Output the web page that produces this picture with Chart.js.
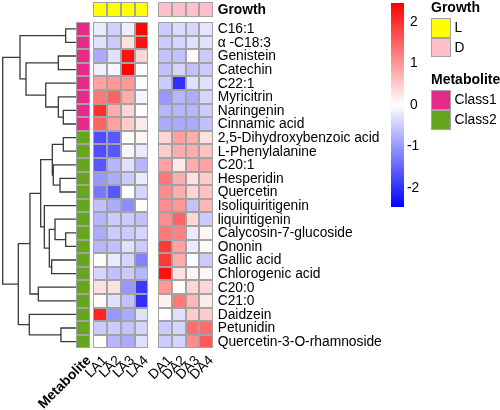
<!DOCTYPE html>
<html>
<head>
<meta charset="utf-8">
<script src="https://cdn.jsdelivr.net/npm/chart.js@4.4.0/dist/chart.umd.min.js"></script>
<style>
  html, body { margin: 0; padding: 0; background: #fff; }
  #wrap { width: 500px; height: 410px; position: relative; }
</style>
</head>
<body>
<div id="wrap"><canvas id="heatmap"></canvas></div>
<script>
// --- Data ---
const metabolites = [
    'C16:1', 'α -C18:3', 'Genistein', 'Catechin', 'C22:1', 'Myricitrin', 'Naringenin', 'Cinnamic acid',
    '2,5-Dihydroxybenzoic acid', 'L-Phenylalanine', 'C20:1', 'Hesperidin', 'Quercetin', 'Isoliquiritigenin',
    'liquiritigenin', 'Calycosin-7-glucoside', 'Ononin', 'Gallic acid', 'Chlorogenic acid', 'C20:0', 'C21:0',
    'Daidzein', 'Petunidin', 'Quercetin-3-O-rhamnoside'
];
const metaboliteClass = [
    'Class1', 'Class1', 'Class1', 'Class1', 'Class1', 'Class1', 'Class1', 'Class1',
    'Class2', 'Class2', 'Class2', 'Class2', 'Class2', 'Class2', 'Class2', 'Class2',
    'Class2', 'Class2', 'Class2', 'Class2', 'Class2', 'Class2', 'Class2', 'Class2'
];
const samples = ['LA1', 'LA2', 'LA3', 'LA4', 'DA1', 'DA2', 'DA3', 'DA4'];
const growth = ['L', 'L', 'L', 'L', 'D', 'D', 'D', 'D'];

// scaled abundance, one row per metabolite: LA1..LA4
const laValues = [
    [-0.2, -0.45, -0.15, 2.4],
    [-0.3, -0.5, 0.3, 2.3],
    [-0.8, -0.3, 2.3, 0.4],
    [-0.15, -0.1, 2.4, -0.05],
    [0.9, 1.0, 1.0, -0.05],
    [1.3, 1.5, 0.8, -0.1],
    [2.0, 0.8, 0.4, 0.0],
    [1.5, 0.9, 0.5, 0.2],
    [-1.7, -1.6, 0.0, 0.1],
    [-1.7, -1.6, -0.1, -0.2],
    [-1.6, -0.7, -0.3, -0.7],
    [-1.0, -0.8, -0.5, -0.2],
    [-1.3, -1.6, 0.0, -0.4],
    [-0.6, -0.8, -1.1, 0.0],
    [-0.7, -0.5, -0.5, -0.6],
    [-0.8, -0.5, -0.5, -0.4],
    [-0.7, -0.6, -0.3, -0.5],
    [0.05, -0.2, -0.4, -1.2],
    [-0.4, -0.6, -0.5, -0.7],
    [0.3, 0.3, -1.0, -1.9],
    [0.05, -0.3, -0.6, -2.0],
    [2.1, -1.0, -0.8, -0.3],
    [-0.5, -0.5, -0.6, -0.4],
    [0.0, -0.7, -0.8, -0.3]
];
// DA1..DA4
const daValues = [
    [-0.5, -0.35, -0.4, -0.25],
    [-0.5, -0.4, -0.3, -0.3],
    [-0.6, -0.6, 0.05, -0.5],
    [-0.6, -0.4, -0.6, -0.5],
    [-0.5, -2.0, -0.3, -0.3],
    [-1.0, -0.7, -0.8, -0.4],
    [-0.7, -0.7, -0.7, -0.5],
    [-0.8, -0.8, -0.8, -0.6],
    [0.4, 0.9, 0.8, 0.3],
    [0.5, 0.8, 0.8, 0.6],
    [0.9, 0.2, 0.8, 0.9],
    [1.3, 0.8, 0.3, 0.5],
    [1.1, 0.8, 0.4, 0.6],
    [1.1, 1.0, -0.6, 0.7],
    [1.1, 1.5, 0.4, -0.5],
    [1.3, 1.2, -0.2, 0.1],
    [1.9, 0.9, -0.2, 0.05],
    [1.9, 0.8, -0.05, -0.5],
    [2.3, 0.3, 0.1, 0.1],
    [1.0, 0.0, 0.4, 0.4],
    [0.15, 1.3, 0.7, 0.2],
    [0.0, -0.3, 0.5, 0.5],
    [-0.5, -0.4, 1.4, 1.4],
    [-0.5, -0.4, 1.1, 1.6]
];

// row dendrogram, hclust style: negative = leaf (1-based row), positive = earlier merge
const merges = [
    [-1, -2, 1.41], [-3, -4, 2.41], [-7, -8, 1.73], [-6, 3, 2.41], [-5, 4, 4.13],
    [2, 5, 6.82], [1, 6, 7.64], [-9, -10, 1.73], [-12, -13, 2.18], [-11, 9, 3.10],
    [8, 10, 3.23], [-16, -17, 1.41], [-15, 12, 2.86], [-18, -19, 3.32], [13, 14, 3.64],
    [-14, 15, 4.32], [11, 16, 4.82], [-20, -21, 5.14], [17, 18, 6.28], [-23, -24, 2.05],
    [-22, 20, 6.37], [19, 21, 7.87], [7, 22, 10.0]
];

const colorTicks = [2, 1, 0, -1, -2];
const zMax = 2.45;

// --- Styles / layout ---
const growthColors = { L: '#FFFF00', D: '#FFC0CB' };
const classColors = { Class1: '#E7298A', Class2: '#66A61E' };
const cellBorder = '#a3a3a3';
const font = '"Liberation Sans", Arial, sans-serif';
const fontSize = 13.8;

const cellW = 13.75, rowH = 13.6;
const heatLeft = 93.3, heatTop = 22;
const groupGap = 0.72;          // gap between L and D blocks, column units
const annGap = 0.24;            // gap between class column and heatmap
const growthGap = 0.37, growthH = 1.1;
const dendroLeaf = 76, dendroRoot = 2.7;

const xMax = 8 + groupGap;
const plotRight = heatLeft + xMax * cellW;
const plotBottom = heatTop + metabolites.length * rowH;
const rootH = Math.max(...merges.map(m => m[2]));
const hScale = (dendroLeaf - dendroRoot) / rootH;
const xdMin = -(plotRight - dendroLeaf) / hScale;
const xdMax = xdMin + (plotRight - heatLeft) / hScale;

function colStart(j) { return j + (j >= 4 ? groupGap : 0); }

function heatColor(v) {
    const t = Math.min(Math.abs(v) / zMax, 1);
    const c = Math.round(255 * (1 - t));
    return v >= 0 ? `rgb(255,${c},${c})` : `rgb(${c},${c},255)`;
}

// build dendrogram polyline from merges
const nodeH = [], nodeY = [];
const dendroPoints = [];
merges.forEach(([a, b, h], k) => {
    const ya = a < 0 ? -a - 1 : nodeY[a - 1];
    const yb = b < 0 ? -b - 1 : nodeY[b - 1];
    const ha = a < 0 ? 0 : nodeH[a - 1];
    const hb = b < 0 ? 0 : nodeH[b - 1];
    nodeH[k] = h;
    nodeY[k] = (ya + yb) / 2;
    dendroPoints.push({ x: ha, y: ya }, { x: h, y: ya }, { x: h, y: yb }, { x: hb, y: yb }, { x: null, y: null });
});

function rect(ctx, x0, y0, x1, y1, fill) {
    const l = Math.round(x0), t = Math.round(y0), r = Math.round(x1), b = Math.round(y1);
    ctx.fillStyle = fill;
    ctx.fillRect(l, t, r - l, b - t);
    ctx.strokeStyle = cellBorder;
    ctx.lineWidth = 1;
    ctx.strokeRect(l + 0.5, t + 0.5, r - l - 1, b - t - 1);
}

// --- Heatmap cells, annotations, labels and legends ---
const heatmapPlugin = {
    id: 'heatmapCells',
    afterDatasetsDraw(chart) {
        const ctx = chart.ctx;
        const xs = chart.scales.x, ys = chart.scales.y;
        ctx.save();

        // main cells
        metabolites.forEach((m, i) => {
            const row = laValues[i].concat(daValues[i]);
            row.forEach((v, j) => {
                rect(ctx, xs.getPixelForValue(colStart(j)), ys.getPixelForValue(i - 0.5),
                    xs.getPixelForValue(colStart(j) + 1), ys.getPixelForValue(i + 0.5), heatColor(v));
            });
            // class annotation column
            rect(ctx, xs.getPixelForValue(-1 - annGap), ys.getPixelForValue(i - 0.5),
                xs.getPixelForValue(-annGap), ys.getPixelForValue(i + 0.5), classColors[metaboliteClass[i]]);
        });

        // growth annotation row
        const gTop = -0.5 - growthGap - growthH, gBot = -0.5 - growthGap;
        growth.forEach((g, j) => {
            rect(ctx, xs.getPixelForValue(colStart(j)), ys.getPixelForValue(gTop),
                xs.getPixelForValue(colStart(j) + 1), ys.getPixelForValue(gBot), growthColors[g]);
        });

        // row labels
        ctx.fillStyle = '#000';
        ctx.textAlign = 'left';
        ctx.textBaseline = 'middle';
        const labelX = xs.getPixelForValue(xMax) + 4.5;
        ctx.font = `${fontSize}px ${font}`;
        metabolites.forEach((m, i) => ctx.fillText(m, labelX, ys.getPixelForValue(i) + 0.5));
        ctx.font = `bold ${fontSize}px ${font}`;
        ctx.fillText('Growth', labelX, ys.getPixelForValue((gTop + gBot) / 2) + 0.5);

        // column labels, rotated 45°
        const labY = ys.getPixelForValue(metabolites.length - 0.5) + 5;
        ctx.textAlign = 'right';
        ctx.textBaseline = 'top';
        ctx.font = `${fontSize}px ${font}`;
        samples.forEach((s, j) => {
            ctx.save();
            ctx.translate(xs.getPixelForValue(colStart(j) + 0.5), labY);
            ctx.rotate(-Math.PI / 4);
            ctx.fillText(s, 0, 0);
            ctx.restore();
        });
        ctx.save();
        ctx.font = `bold ${fontSize}px ${font}`;
        ctx.translate(xs.getPixelForValue(-0.5 - annGap) + 1, labY);
        ctx.rotate(-Math.PI / 4);
        ctx.fillText('Metabolite', 0, 0);
        ctx.restore();

        // colour key
        const cbL = 391, cbR = 404, cbT = 3, cbB = 207;
        const grad = ctx.createLinearGradient(0, cbT, 0, cbB);
        grad.addColorStop(0, '#FF0000');
        grad.addColorStop(0.5, '#FFFFFF');
        grad.addColorStop(1, '#0000FF');
        ctx.fillStyle = grad;
        ctx.fillRect(cbL, cbT, cbR - cbL, cbB - cbT);
        ctx.fillStyle = '#000';
        ctx.textAlign = 'left';
        ctx.textBaseline = 'middle';
        ctx.font = `${fontSize}px ${font}`;
        colorTicks.forEach(t => {
            const y = cbT + (zMax - t) / (2 * zMax) * (cbB - cbT);
            ctx.fillText(String(t), t < 0 ? 407 : 410, y);
        });

        // annotation legends
        const lgX = 431, boxW = 19.5, boxH = 19.5;
        ctx.font = `bold 14px ${font}`;
        ctx.fillText('Growth', lgX, 8.5);
        ctx.font = `${fontSize}px ${font}`;
        ['L', 'D'].forEach((g, k) => {
            const y = 18.3 + k * boxH;
            rect(ctx, lgX, y, lgX + boxW, y + boxH, growthColors[g]);
            ctx.fillStyle = '#000';
            ctx.fillText(g, lgX + boxW + 4, y + boxH / 2 + 0.5);
        });
        ctx.font = `bold 14px ${font}`;
        ctx.fillText('Metabolite', lgX, 80);
        ctx.font = `${fontSize}px ${font}`;
        ['Class1', 'Class2'].forEach((c, k) => {
            const y = 89.5 + k * (boxH + 0.5);
            rect(ctx, lgX, y, lgX + boxW, y + boxH + 0.5, classColors[c]);
            ctx.fillStyle = '#000';
            ctx.fillText(c, lgX + boxW + 4, y + boxH / 2 + 0.5);
        });

        ctx.restore();
    }
};

new Chart(document.getElementById('heatmap'), {
    type: 'scatter',
    data: {
        datasets: [{
            label: 'dendrogram',
            data: dendroPoints,
            xAxisID: 'xd',
            yAxisID: 'y',
            showLine: true,
            borderColor: '#3a3a3a',
            borderWidth: 1.3,
            pointRadius: 0,
            tension: 0,
            clip: false
        }]
    },
    options: {
        responsive: true,
        maintainAspectRatio: false,
        animation: false,
        events: [],
        layout: {
            padding: { left: heatLeft, top: heatTop, right: 500 - plotRight, bottom: 410 - plotBottom }
        },
        plugins: {
            legend: { display: false },
            tooltip: { enabled: false }
        },
        scales: {
            x: { type: 'linear', display: false, min: 0, max: xMax },
            xd: { type: 'linear', axis: 'x', display: false, reverse: true, min: xdMin, max: xdMax },
            y: { type: 'linear', display: false, reverse: true, min: -0.5, max: metabolites.length - 0.5 }
        }
    },
    plugins: [heatmapPlugin]
});
</script>
</body>
</html>
